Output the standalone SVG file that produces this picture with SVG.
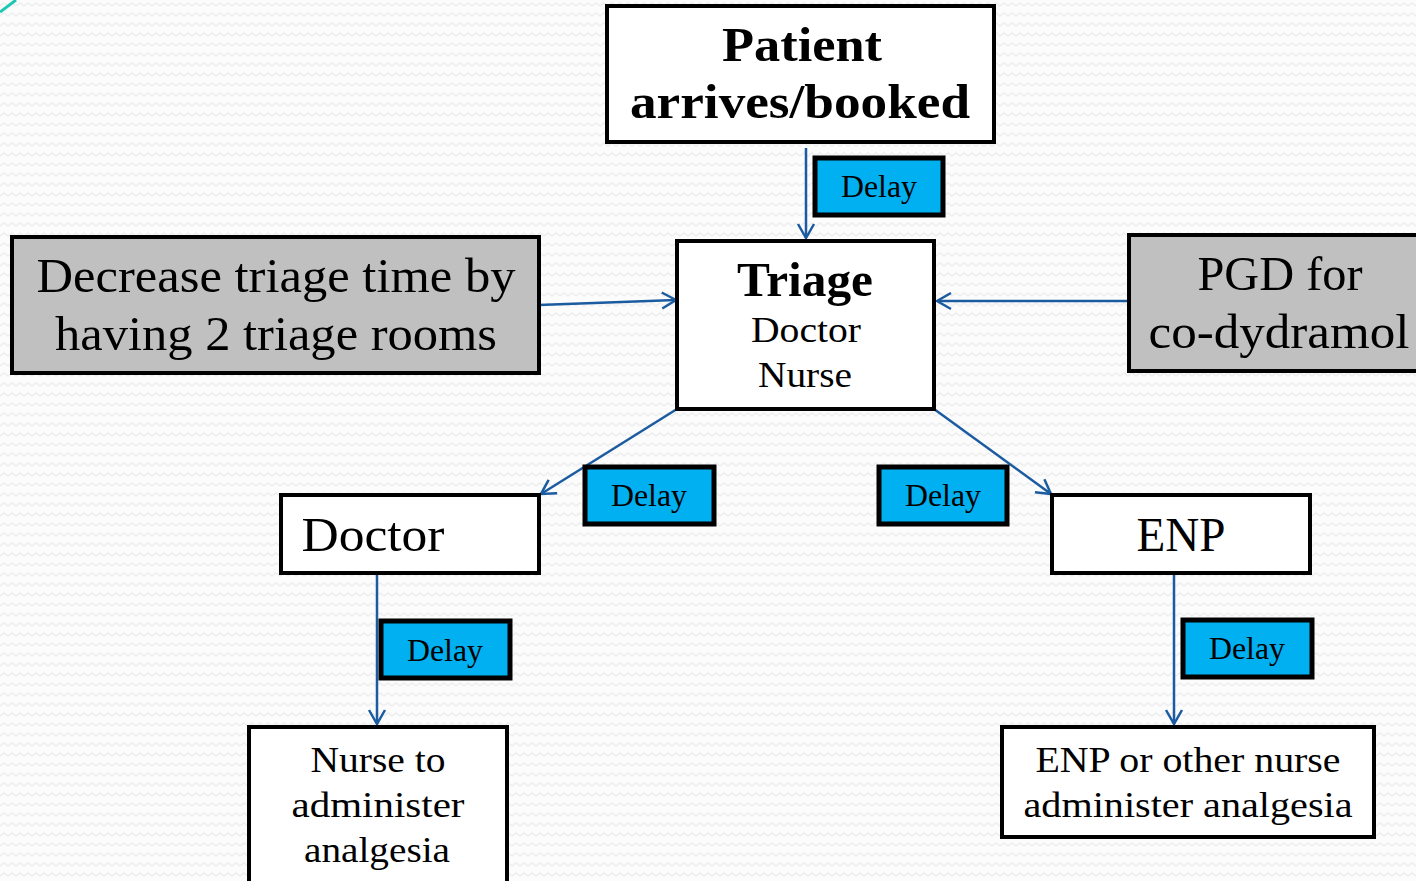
<svg xmlns="http://www.w3.org/2000/svg" width="1416" height="881" viewBox="0 0 1416 881">
  <style>
    .box { fill: #ffffff; stroke: #000000; stroke-width: 4; }
    .grey { fill: #c0c0c0; stroke: #000000; stroke-width: 4; }
    .delay { fill: #00b0f0; stroke: #000000; stroke-width: 5; }
    .t { font-family: "Liberation Serif", "DejaVu Serif", serif; fill: #000000; text-anchor: middle; }
    .big { font-size: 48px; }
    .bold { font-weight: bold; }
    .mid { font-size: 35px; }
    .dl { font-size: 32px; }
    .conn { stroke: #1b5ba0; stroke-width: 2.5; fill: none; marker-end: url(#arr); }
  </style>
  <defs>
    <pattern id="zig" width="16" height="10" patternUnits="userSpaceOnUse">
      <rect width="16" height="10" fill="#fcfcfc"/>
      <path d="M0 6 L4 3 L8 6 L12 3 L16 6" stroke="#eeeeee" stroke-width="1.5" fill="none"/>
    </pattern>
    <marker id="arr" viewBox="0 0 20 20" refX="18" refY="10" markerWidth="20" markerHeight="20" markerUnits="userSpaceOnUse" orient="auto">
      <path d="M4 2 L18 10 L4 18" stroke="#1b5ba0" stroke-width="2.5" fill="none"/>
    </marker>
  </defs>

  <!-- background -->
  <rect width="1416" height="881" fill="url(#zig)"/>
  <path d="M0 12 Q8 6 16 0" stroke="#1ec8b4" stroke-width="3" fill="none"/>

  <!-- connectors -->
  <g id="connectors">
    <line class="conn" x1="806" y1="148" x2="806" y2="238"/>
    <line class="conn" x1="539" y1="305" x2="676" y2="300"/>
    <line class="conn" x1="1129" y1="301" x2="937" y2="301"/>
    <line class="conn" x1="677" y1="409" x2="541" y2="494"/>
    <line class="conn" x1="934" y1="409" x2="1051" y2="494"/>
    <line class="conn" x1="377" y1="573" x2="377" y2="724"/>
    <line class="conn" x1="1174" y1="573" x2="1174" y2="724"/>
  </g>

  <g id="patient">
    <rect class="box" x="607" y="6" width="387" height="136"/>
    <text class="t big bold" x="802" y="61" textLength="160" lengthAdjust="spacingAndGlyphs">Patient</text>
    <text class="t big bold" x="800" y="118" textLength="340" lengthAdjust="spacingAndGlyphs">arrives/booked</text>
  </g>

  <g id="delay1">
    <rect class="delay" x="815" y="158" width="128" height="57"/>
    <text class="t dl" x="879" y="197" textLength="76" lengthAdjust="spacingAndGlyphs">Delay</text>
  </g>

  <g id="triage">
    <rect class="box" x="677" y="241" width="257" height="168"/>
    <text class="t big bold" x="805" y="296" textLength="136" lengthAdjust="spacingAndGlyphs">Triage</text>
    <text class="t mid" x="806" y="342" textLength="110" lengthAdjust="spacingAndGlyphs">Doctor</text>
    <text class="t mid" x="805" y="387" textLength="94" lengthAdjust="spacingAndGlyphs">Nurse</text>
  </g>

  <g id="decrease">
    <rect class="grey" x="12" y="237" width="527" height="136"/>
    <text class="t big" x="276" y="292" textLength="479" lengthAdjust="spacingAndGlyphs">Decrease triage time by</text>
    <text class="t big" x="276" y="350" textLength="442" lengthAdjust="spacingAndGlyphs">having 2 triage rooms</text>
  </g>

  <g id="pgd">
    <rect class="grey" x="1129" y="235" width="300" height="136"/>
    <text class="t big" x="1280" y="290" textLength="165" lengthAdjust="spacingAndGlyphs">PGD for</text>
    <text class="t big" x="1279" y="348" textLength="261" lengthAdjust="spacingAndGlyphs">co-dydramol</text>
  </g>

  <g id="doctor">
    <rect class="box" x="281" y="495" width="258" height="78"/>
    <text class="t big" x="373" y="551" textLength="143" lengthAdjust="spacingAndGlyphs">Doctor</text>
  </g>

  <g id="delay2">
    <rect class="delay" x="585" y="467" width="129" height="57"/>
    <text class="t dl" x="649" y="506" textLength="76" lengthAdjust="spacingAndGlyphs">Delay</text>
  </g>

  <g id="delay3">
    <rect class="delay" x="879" y="467" width="128" height="57"/>
    <text class="t dl" x="943" y="506" textLength="76" lengthAdjust="spacingAndGlyphs">Delay</text>
  </g>

  <g id="enp">
    <rect class="box" x="1052" y="495" width="258" height="78"/>
    <text class="t big" x="1181" y="551" textLength="89" lengthAdjust="spacingAndGlyphs">ENP</text>
  </g>

  <g id="delay4">
    <rect class="delay" x="381" y="621" width="129" height="57"/>
    <text class="t dl" x="445" y="661" textLength="76" lengthAdjust="spacingAndGlyphs">Delay</text>
  </g>

  <g id="delay5">
    <rect class="delay" x="1183" y="620" width="129" height="57"/>
    <text class="t dl" x="1247" y="659" textLength="76" lengthAdjust="spacingAndGlyphs">Delay</text>
  </g>

  <g id="nurse">
    <rect class="box" x="249" y="727" width="258" height="160"/>
    <text class="t mid" x="378" y="772" textLength="135" lengthAdjust="spacingAndGlyphs">Nurse to</text>
    <text class="t mid" x="378" y="817" textLength="173" lengthAdjust="spacingAndGlyphs">administer</text>
    <text class="t mid" x="377" y="862" textLength="146" lengthAdjust="spacingAndGlyphs">analgesia</text>
  </g>

  <g id="enp-nurse">
    <rect class="box" x="1002" y="727" width="372" height="110"/>
    <text class="t mid" x="1188" y="772" textLength="305" lengthAdjust="spacingAndGlyphs">ENP or other nurse</text>
    <text class="t mid" x="1188" y="817" textLength="329" lengthAdjust="spacingAndGlyphs">administer analgesia</text>
  </g>
</svg>
